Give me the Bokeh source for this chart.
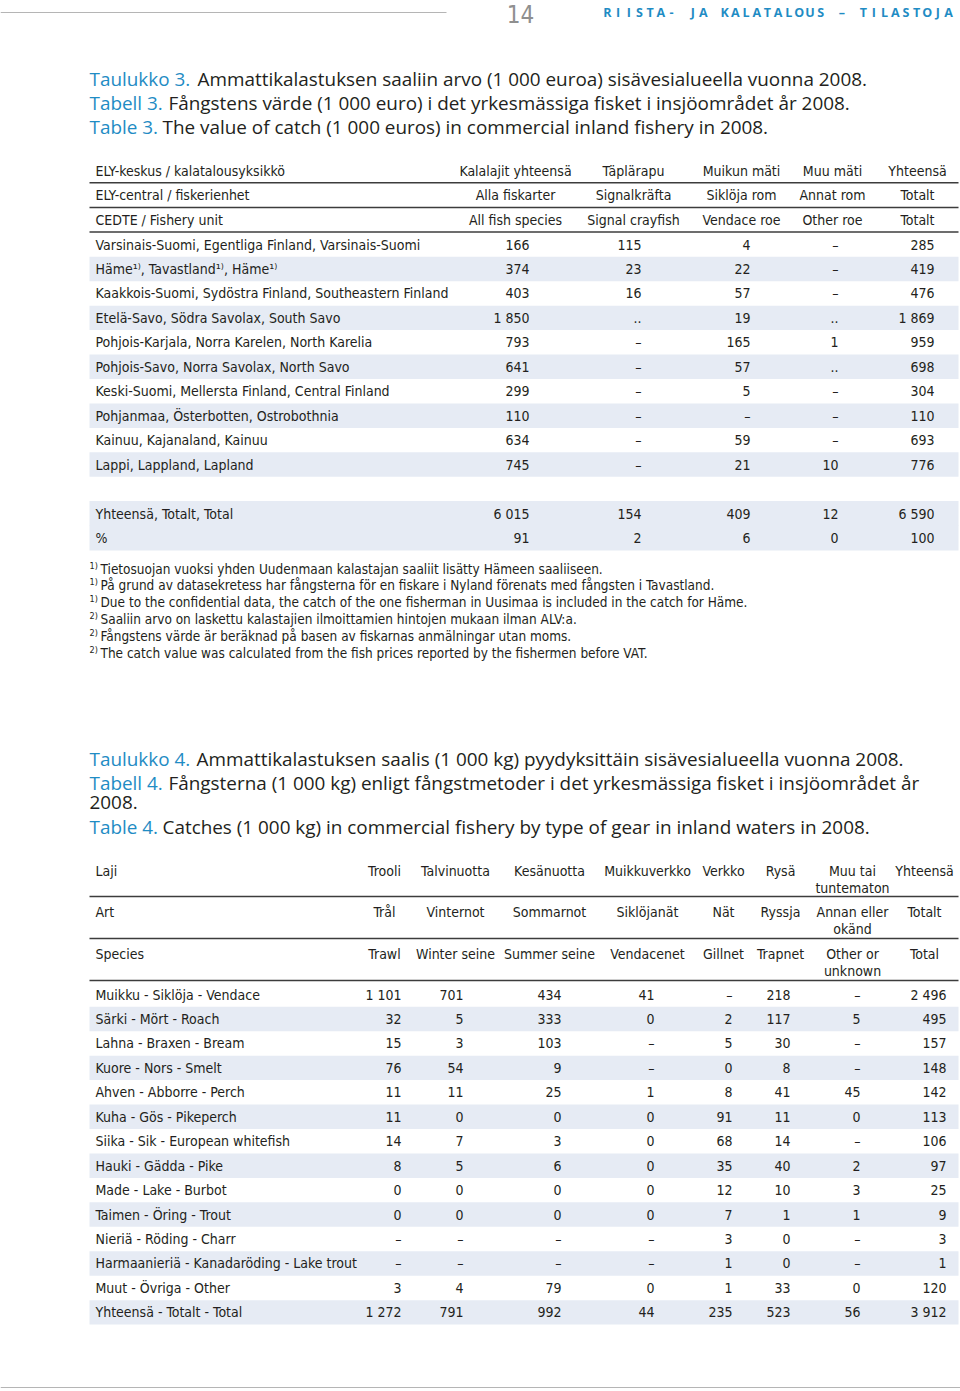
from bokeh.plotting import figure
from bokeh.models import ColumnDataSource, Range1d
from bokeh.core.properties import value
from bokeh.embed import file_html
from bokeh.resources import INLINE

# ---------------- data ----------------
page_number = "14"
page_header = "RIISTA- JA KALATALOUS – TILASTOJA"
t3_titles = [("Taulukko 3.", "Ammattikalastuksen saaliin arvo (1 000 euroa) sisävesialueella vuonna 2008."),
             ("Tabell 3.", "Fångstens värde (1 000 euro) i det yrkesmässiga fisket i insjöområdet år 2008."),
             ("Table 3.", "The value of catch (1 000 euros) in commercial inland fishery in 2008.")]
t3_head_label = ["ELY-keskus / kalatalousyksikkö", "ELY-central / fiskerienhet", "CEDTE / Fishery unit"]
t3_head_cols = [["Kalalajit yhteensä", "Täplärapu", "Muikun mäti", "Muu mäti", "Yhteensä"],
                ["Alla fiskarter", "Signalkräfta", "Siklöja rom", "Annat rom", "Totalt"],
                ["All fish species", "Signal crayfish", "Vendace roe", "Other roe", "Totalt"]]
t3_regions = ["Varsinais-Suomi, Egentliga Finland, Varsinais-Suomi",
              "Häme¹⁾, Tavastland¹⁾, Häme¹⁾",
              "Kaakkois-Suomi, Sydöstra Finland, Southeastern Finland",
              "Etelä-Savo, Södra Savolax, South Savo",
              "Pohjois-Karjala, Norra Karelen, North Karelia",
              "Pohjois-Savo, Norra Savolax, North Savo",
              "Keski-Suomi, Mellersta Finland, Central Finland",
              "Pohjanmaa, Österbotten, Ostrobothnia",
              "Kainuu, Kajanaland, Kainuu",
              "Lappi, Lappland, Lapland"]
t3_fish = ["166", "374", "403", "1 850", "793", "641", "299", "110", "634", "745"]
t3_crayfish = ["115", "23", "16", "..", "–", "–", "–", "–", "–", "–"]
t3_vendace_roe = ["4", "22", "57", "19", "165", "57", "5", "–", "59", "21"]
t3_other_roe = ["–", "–", "–", "..", "1", "..", "–", "–", "–", "10"]
t3_total = ["285", "419", "476", "1 869", "959", "698", "304", "110", "693", "776"]
t3_sum_labels = ["Yhteensä, Totalt, Total", "%"]
t3_sum_fish = ["6 015", "91"]
t3_sum_crayfish = ["154", "2"]
t3_sum_vendace_roe = ["409", "6"]
t3_sum_other_roe = ["12", "0"]
t3_sum_total = ["6 590", "100"]
t3_notes = [("1)", "Tietosuojan vuoksi yhden Uudenmaan kalastajan saaliit lisätty Hämeen saaliiseen."),
            ("1)", "På grund av datasekretess har fångsterna för en fiskare i Nyland förenats med fångsten i Tavastland."),
            ("1)", "Due to the confidential data, the catch of the one fisherman in Uusimaa is included in the catch for Häme."),
            ("2)", "Saaliin arvo on laskettu kalastajien ilmoittamien hintojen mukaan ilman ALV:a."),
            ("2)", "Fångstens värde är beräknad på basen av fiskarnas anmälningar utan moms."),
            ("2)", "The catch value was calculated from the fish prices reported by the fishermen before VAT.")]

t4_titles = [("Taulukko 4.", "Ammattikalastuksen saalis (1 000 kg) pyydyksittäin sisävesialueella vuonna 2008."),
             ("Tabell 4.", "Fångsterna (1 000 kg) enligt fångstmetoder i det yrkesmässiga fisket i insjöområdet år"),
             ("", "2008."),
             ("Table 4.", "Catches (1 000 kg) in commercial fishery by type of gear in inland waters in 2008.")]
t4_head_label = ["Laji", "Art", "Species"]
t4_head_cols = [["Trooli", "Talvinuotta", "Kesänuotta", "Muikkuverkko", "Verkko", "Rysä", "Muu tai\ntuntematon", "Yhteensä"],
                ["Trål", "Vinternot", "Sommarnot", "Siklöjanät", "Nät", "Ryssja", "Annan eller\nokänd", "Totalt"],
                ["Trawl", "Winter seine", "Summer seine", "Vendacenet", "Gillnet", "Trapnet", "Other or\nunknown", "Total"]]
t4_species = ["Muikku - Siklöja - Vendace", "Särki - Mört - Roach", "Lahna - Braxen - Bream",
              "Kuore - Nors - Smelt", "Ahven - Abborre - Perch", "Kuha - Gös - Pikeperch",
              "Siika - Sik - European whitefish", "Hauki - Gädda - Pike", "Made - Lake - Burbot",
              "Taimen - Öring - Trout", "Nieriä - Röding - Charr",
              "Harmaanieriä - Kanadaröding - Lake trout", "Muut - Övriga - Other",
              "Yhteensä - Totalt - Total"]
t4_trawl = ["1 101", "32", "15", "76", "11", "11", "14", "8", "0", "0", "–", "–", "3", "1 272"]
t4_winter_seine = ["701", "5", "3", "54", "11", "0", "7", "5", "0", "0", "–", "–", "4", "791"]
t4_summer_seine = ["434", "333", "103", "9", "25", "0", "3", "6", "0", "0", "–", "–", "79", "992"]
t4_vendacenet = ["41", "0", "–", "–", "1", "0", "0", "0", "0", "0", "–", "–", "0", "44"]
t4_gillnet = ["–", "2", "5", "0", "8", "91", "68", "35", "12", "7", "3", "1", "1", "235"]
t4_trapnet = ["218", "117", "30", "8", "41", "11", "14", "40", "10", "1", "0", "0", "33", "523"]
t4_other = ["–", "5", "–", "–", "45", "0", "–", "2", "3", "1", "–", "–", "0", "56"]
t4_total = ["2 496", "495", "157", "148", "142", "113", "106", "97", "25", "9", "3", "1", "120", "3 912"]

# ---------------- styles / layout ----------------
NARROW = value("Liberation Sans Narrow, DejaVu Sans Condensed, sans-serif")
SANS = value("Open Sans, Noto Sans, sans-serif")
TXT = "#231f20"
BLUE = "#1f8cc4"
STRIPE = "#e6ebf4"
RULE = "#3c3c3c"
BODY = "14px"
TITLE = "18.9px"

W, H = 960, 1391
p = figure(width=W, height=H, output_backend="svg", toolbar_location=None,
           x_range=Range1d(0, W), y_range=Range1d(H, 0),
           min_border=0, border_fill_color="white", background_fill_color="white")
p.axis.visible = False
p.grid.visible = False
p.outline_line_color = None


def texts(xs, ys, strs, align="left", size=BODY, font=NARROW, color=TXT, style="normal"):
    src = ColumnDataSource(dict(x=list(xs), y=list(ys), t=list(strs)))
    p.text("x", "y", "t", source=src, text_align=align, text_baseline="middle",
           text_font=font, text_font_size=size, text_color=color, text_font_style=style,
           text_line_height=1.0)


def stripes(ys, h, x0=89, x1=958):
    src = ColumnDataSource(dict(top=[y - h / 2 for y in ys], bottom=[y + h / 2 for y in ys]))
    p.quad(left=x0, right=x1, top="top", bottom="bottom", source=src,
           fill_color=STRIPE, line_color=None)


def rules(ys, x0=89, x1=958, color=RULE, width=1.5):
    for y in ys:
        p.segment(x0=[x0], y0=[y], x1=[x1], y1=[y], line_color=color, line_width=width)


# page header
rules([12], x0=0, x1=446, color="#b5b5b5", width=1.2)
texts([520], [13], [page_number], align="center", size="24px", color="#8f8f8f")
chars = list(page_header)
adv = (948 - 607) / (len(chars) - 1)
hx = [607 + i * adv for i, c in enumerate(chars) if c != " "]
hc = [c for c in chars if c != " "]
texts(hx, [12] * len(hc), hc, align="center", size="12.5px", font=SANS, color=BLUE, style="bold")
rules([1387], x0=0, x1=960, color="#b5b5b5", width=1.2)


def titles(tlist, ys, leads):
    texts([89] * len(tlist), ys, [a for a, _ in tlist], size=TITLE, font=SANS, color=BLUE)
    texts([89 + l for l in leads], ys, [b for _, b in tlist], size=TITLE, font=SANS, color=TXT)


# ---------------- table 3 ----------------
titles(t3_titles, [78, 102.3, 126.6], [108, 79, 73])
t3_hx = [515, 633, 741, 832, 917]
t3_rx = [529, 641, 750, 838, 934]
hy = [170 + i * 24.6 for i in range(3)]
texts([95] * 3, hy, t3_head_label)
for j, cx in enumerate(t3_hx):
    texts([cx] * 3, hy, [t3_head_cols[i][j] for i in range(3)], align="center")
rules([y + 12.3 for y in hy])

row_h = 24.45
ry = [244 + i * row_h for i in range(len(t3_regions))]
stripes([y for i, y in enumerate(ry) if i % 2 == 1], row_h)
texts([95] * len(ry), ry, t3_regions)
for col, rx in zip([t3_fish, t3_crayfish, t3_vendace_roe, t3_other_roe, t3_total], t3_rx):
    texts([rx] * len(ry), ry, col, align="right")

sy = [513 + i * row_h for i in range(len(t3_sum_labels))]
stripes(sy, row_h + 0.6)
texts([95] * len(sy), sy, t3_sum_labels)
for col, rx in zip([t3_sum_fish, t3_sum_crayfish, t3_sum_vendace_roe, t3_sum_other_roe, t3_sum_total], t3_rx):
    texts([rx] * len(sy), sy, col, align="right")

ny = [568 + i * 16.8 for i in range(len(t3_notes))]
texts([89] * len(ny), [y - 3 for y in ny], [a for a, _ in t3_notes], size="9px")
texts([100] * len(ny), ny, [b for _, b in t3_notes], size="13.5px")

# ---------------- table 4 ----------------
titles(t4_titles, [758, 782, 802, 826], [107, 79, 0, 73])

t4_hx = [384, 455, 549, 647, 723, 780, 852, 924]
t4_rx = [401, 463, 561, 654, 732, 790, 860, 946]
h4y = [870, 911.5, 953]
texts([95] * 3, h4y, t4_head_label)
for j, cx in enumerate(t4_hx):
    for i in range(3):
        lines = t4_head_cols[i][j].split("\n")
        texts([cx] * len(lines), [h4y[i] + k * 17 for k in range(len(lines))], lines, align="center")
rules([896, 938, 980])

r4y = [994 + i * row_h for i in range(len(t4_species))]
stripes([y for i, y in enumerate(r4y) if i % 2 == 1], row_h)
texts([95] * len(r4y), r4y, t4_species)
cols4 = [t4_trawl, t4_winter_seine, t4_summer_seine, t4_vendacenet, t4_gillnet, t4_trapnet, t4_other, t4_total]
for col, rx in zip(cols4, t4_rx):
    texts([rx] * len(r4y), r4y, col, align="right")

open("out.html", "w").write(file_html(p, INLINE))
